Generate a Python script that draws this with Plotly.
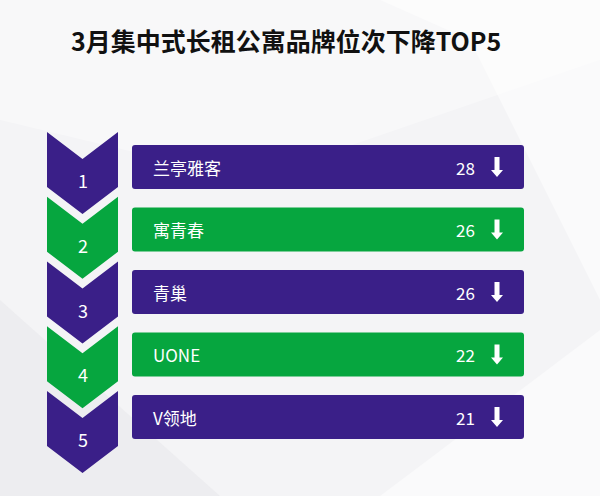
import plotly.graph_objects as go

# ---- data ----
title_text = "3月集中式长租公寓品牌位次下降TOP5"
ranks = [1, 2, 3, 4, 5]
brands = ["兰亭雅客", "寓青春", "青巢", "UONE", "V领地"]
values = [28, 26, 26, 22, 21]
colors = ["#3a1f88", "#06a63f", "#3a1f88", "#06a63f", "#3a1f88"]

W, H = 600, 496
BG = "#f4f4f6"
FONT = "Noto Sans CJK SC"

# layout constants (pixel-like coordinate system)
BAR_X0, BAR_X1 = 132, 524
BAR_TOP0, BAR_STEP, BAR_H = 145, 62.5, 44
CH_X0, CH_X1 = 47, 118
CH_TOP0, CH_STEP = 132, 64.75
NOTCH, SIDE, TIP = 27, 55, 82
ARROW_X = 497

fig = go.Figure()
shapes = []

# subtle faceted background
bg_polys = [
    [(0, 0), (600, 0), (600, 60), (250, 180), (0, 120)],
    [(380, 0), (600, 0), (600, 300), (470, 40)],
    [(0, 300), (220, 496), (0, 496)],
    [(380, 496), (600, 330), (600, 496)],
]
bg_cols = ["rgba(255,255,255,0.35)", "rgba(255,255,255,0.5)",
           "rgba(230,230,234,0.5)", "rgba(255,255,255,0.5)"]
for poly, c in zip(bg_polys, bg_cols):
    path = "M " + " L ".join(f"{x},{y}" for x, y in poly) + " Z"
    shapes.append(dict(type="path", path=path, fillcolor=c, line=dict(width=0),
                       xref="x", yref="y", layer="below"))

def rounded_rect(x0, y0, x1, y1, r):
    return (f"M {x0+r},{y0} L {x1-r},{y0} Q {x1},{y0} {x1},{y0+r} "
            f"L {x1},{y1-r} Q {x1},{y1} {x1-r},{y1} L {x0+r},{y1} "
            f"Q {x0},{y1} {x0},{y1-r} L {x0},{y0+r} Q {x0},{y0} {x0+r},{y0} Z")

annotations = []
for r, b, v, c in zip(ranks, brands, values, colors):
    i = r - 1
    # chevron
    t = CH_TOP0 + CH_STEP * i
    cx = (CH_X0 + CH_X1) / 2
    pts = [(CH_X0, t), (cx, t + NOTCH), (CH_X1, t), (CH_X1, t + SIDE),
           (cx, t + TIP), (CH_X0, t + SIDE)]
    shapes.append(dict(type="path",
                       path="M " + " L ".join(f"{x},{y}" for x, y in pts) + " Z",
                       fillcolor=c, line=dict(width=0), xref="x", yref="y"))
    annotations.append(dict(x=cx, y=t + 48, text=str(r), showarrow=False,
                            xref="x", yref="y",
                            font=dict(family=FONT, size=18, color="white")))
    # bar
    y0 = BAR_TOP0 + BAR_STEP * i
    y1 = y0 + BAR_H
    yc = (y0 + y1) / 2
    shapes.append(dict(type="path", path=rounded_rect(BAR_X0, y0, BAR_X1, y1, 3),
                       fillcolor=c, line=dict(width=0), xref="x", yref="y"))
    annotations.append(dict(x=BAR_X0 + 19, y=yc, text=b, showarrow=False,
                            xanchor="left", xref="x", yref="y",
                            font=dict(family=FONT, size=17, color="white")))
    annotations.append(dict(x=ARROW_X - 20, y=yc, text=str(v), showarrow=False,
                            xanchor="right", xref="x", yref="y",
                            font=dict(family=FONT, size=17, color="white")))
    # down arrow
    a = [(ARROW_X - 2.5, yc - 10), (ARROW_X + 2.5, yc - 10), (ARROW_X + 2.5, yc + 3),
         (ARROW_X + 6, yc + 3), (ARROW_X, yc + 10), (ARROW_X - 6, yc + 3),
         (ARROW_X - 2.5, yc + 3)]
    shapes.append(dict(type="path",
                       path="M " + " L ".join(f"{x},{y}" for x, y in a) + " Z",
                       fillcolor="white", line=dict(width=0), xref="x", yref="y"))

annotations.append(dict(x=286, y=40, text=f"<b>{title_text}</b>", showarrow=False,
                        xref="x", yref="y",
                        font=dict(family=FONT, size=25, color="#111111")))

fig.update_layout(
    width=W, height=H, margin=dict(l=0, r=0, t=0, b=0),
    paper_bgcolor=BG, plot_bgcolor=BG,
    xaxis=dict(range=[0, W], visible=False, fixedrange=True),
    yaxis=dict(range=[H, 0], visible=False, fixedrange=True),
    shapes=shapes, annotations=annotations, showlegend=False,
    hovermode=False,
)
fig.write_html("out.html",
               config={"displayModeBar": False, "staticPlot": True},
               post_script="document.body.style.margin='0';"
                           "document.body.style.background='" + BG + "';"
                           "document.body.style.overflow='hidden';")
